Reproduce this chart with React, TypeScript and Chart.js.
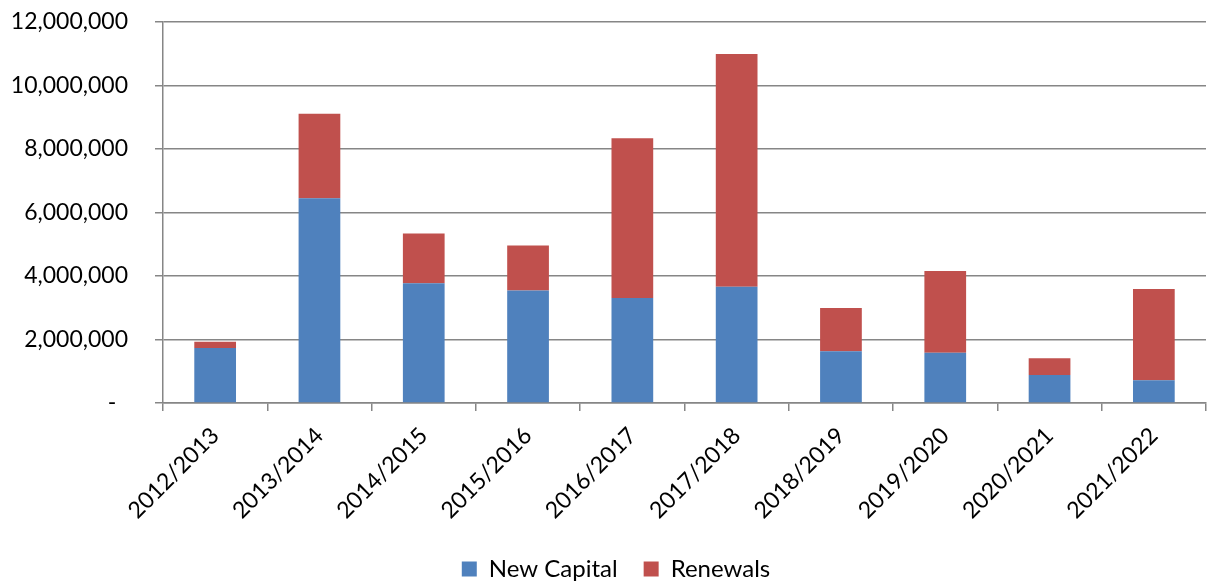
import React, { useEffect, useRef } from "react";
import { Chart, registerables } from "chart.js";

Chart.register(...registerables);

const categories = [
  "2012/2013", "2013/2014", "2014/2015", "2015/2016", "2016/2017",
  "2017/2018", "2018/2019", "2019/2020", "2020/2021", "2021/2022",
];
const newCapital = [1730000, 6450000, 3770000, 3540000, 3310000, 3660000, 1630000, 1580000, 880000, 720000];
const renewals = [200000, 2660000, 1570000, 1420000, 5030000, 7330000, 1360000, 2580000, 530000, 2870000];
const yMax = 12000000;
const yStep = 2000000;

const FONT = "Lato, 'Open Sans', sans-serif";

const legendShift = {
  id: "legendShift",
  afterLayout(chart: any) {
    if (chart.legend) {
      chart.legend.left += 13;
      chart.legend.right += 13;
    }
  },
};

export default function App() {
  const ref = useRef<HTMLCanvasElement>(null);
  useEffect(() => {
    if (!ref.current) return;
    const chart = new Chart(ref.current, {
      type: "bar",
      data: {
        labels: categories,
        datasets: [
          { label: "New Capital", data: newCapital, backgroundColor: "#4F81BD", borderWidth: 0 },
          { label: "Renewals", data: renewals, backgroundColor: "#C0504D", borderWidth: 0 },
        ],
      },
      plugins: [legendShift],
      options: {
        responsive: false,
        animation: false,
        layout: { padding: { top: 22, right: 3, left: 0, bottom: -8 } },
        datasets: { bar: { barPercentage: 0.4, categoryPercentage: 1 } },
        plugins: {
          legend: {
            position: "bottom",
            labels: {
              font: { family: FONT, size: 24 },
              color: "#000",
              boxWidth: 15,
              boxHeight: 15,
              padding: 26,
            },
          },
          tooltip: { enabled: false },
        },
        scales: {
          x: {
            stacked: true,
            grid: { drawOnChartArea: false, drawTicks: true, tickLength: 8, color: "#868686", lineWidth: 1.5, offset: true },
            border: { display: true, color: "#868686", width: 1.5 },
            ticks: {
              font: { family: FONT, size: 23 },
              color: "#000",
              autoSkip: false,
              maxRotation: 45,
              minRotation: 45,
              padding: 11,
            },
            afterFit: (s: any) => {
              s.height = 128;
              s.paddingLeft = 0;
              s.paddingRight = 0;
              s.paddingTop = 0;
              s.paddingBottom = 0;
            },
          },
          y: {
            stacked: true,
            min: 0,
            max: yMax,
            grid: { color: "#868686", lineWidth: 1.5, tickLength: 8 },
            border: { display: true, color: "#868686", width: 1.5 },
            ticks: {
              stepSize: yStep,
              font: { family: FONT, size: 23 },
              color: "#000",
              padding: 27,
              callback: (v: any) => (Number(v) === 0 ? "-  " : Number(v).toLocaleString("en-US")),
            },
            afterFit: (s: any) => {
              s.width = 163;
              s.paddingTop = 0;
              s.paddingBottom = 0;
              s.paddingLeft = 0;
              s.paddingRight = 0;
            },
          },
        },
      },
    });
    return () => chart.destroy();
  }, []);
  return (
    <canvas
      ref={ref}
      width={1209}
      height={583}
      style={{ position: "fixed", left: 0, top: 0, width: 1209, height: 583, background: "#fff" }}
    />
  );
}
